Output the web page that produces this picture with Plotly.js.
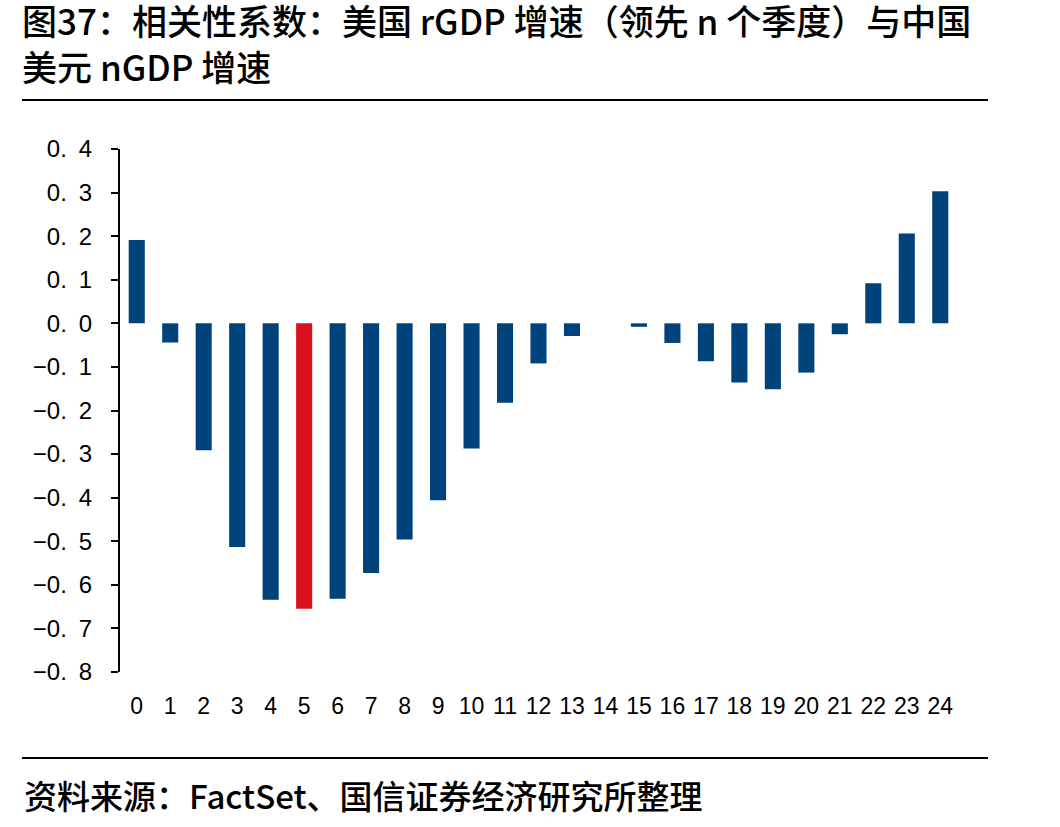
<!DOCTYPE html>
<html>
<head>
<meta charset="utf-8">
<script src="https://cdn.plot.ly/plotly-3.0.1.min.js"></script>
<style>
  html, body { margin: 0; padding: 0; background: #ffffff; }
  #chart { width: 1060px; height: 827px; }
</style>
</head>
<body>
<div id="chart"></div>
<script>
// Lead in quarters (US rGDP growth leading China's USD nGDP growth)
const leadQuarters = ["0","1","2","3","4","5","6","7","8","9","10","11","12",
                      "13","14","15","16","17","18","19","20","21","22","23","24"];

// Correlation coefficient for each lead
const correlation = [0.191, -0.044, -0.291, -0.513, -0.634, -0.655, -0.632, -0.573,
                     -0.496, -0.406, -0.287, -0.182, -0.092, -0.029, 0.000, -0.008,
                     -0.045, -0.087, -0.136, -0.151, -0.113, -0.025, 0.092, 0.206, 0.303];

// Y axis ticks
const yTickVals = [0.4, 0.3, 0.2, 0.1, 0.0, -0.1, -0.2, -0.3, -0.4, -0.5, -0.6, -0.7, -0.8];
const yTickText = ["0.\u20024", "0.\u20023", "0.\u20022", "0.\u20021", "0.\u20020",
                   "\u22120.\u20021", "\u22120.\u20022", "\u22120.\u20023", "\u22120.\u20024",
                   "\u22120.\u20025", "\u22120.\u20026", "\u22120.\u20027", "\u22120.\u20028"];

const highlightLead = "5";
const BLUE = "#00427A";
const RED = "#D9101D";

const yMin = -0.8, yMax = 0.4;
const barColors = leadQuarters.map(q => q === highlightLead ? RED : BLUE);
const boundaries = leadQuarters.map((_, i) => i + 0.5);

const CJK = '"Noto Sans CJK SC", "Noto Sans", sans-serif';
const LATIN = '"Liberation Sans", Arial, sans-serif';

// Plot area in pixels
const W = 1060, H = 827;
const L = 120, R = 103, T = 149, B = 155;
const plotW = W - L - R, plotH = H - T - B;
const px = x => (x - L) / plotW;          // pixel x -> paper x
const py = y => (H - B - y) / plotH;      // pixel y -> paper y

const trace = {
  type: "bar",
  x: leadQuarters,
  y: correlation,
  marker: { color: barColors, line: { width: 0 } },
  hoverinfo: "x+y"
};

const layout = {
  width: W, height: H,
  paper_bgcolor: "#ffffff",
  plot_bgcolor: "#ffffff",
  margin: { l: L, r: R, t: T, b: B, pad: 0 },
  showlegend: false,
  bargap: 0.52,
  title: {
    text: "图37：相关性系数：美国 rGDP 增速（领先 n 个季度）与中国<br>美元 nGDP 增速",
    font: { family: CJK, size: 35, color: "#000000", weight: 500 },
    xref: "container", yref: "container",
    x: 22 / W, xanchor: "left",
    y: 1 - 35 / H, yanchor: "top"
  },
  xaxis: {
    type: "category",
    categoryorder: "array",
    categoryarray: leadQuarters,
    range: [-0.5, leadQuarters.length - 0.5],
    showline: false,
    ticks: "",
    showgrid: false,
    zeroline: false,
    tickfont: { family: LATIN, size: 23, color: "#000000" },
    ticklabelstandoff: 18,
    automargin: false,
    fixedrange: true
  },
  // Horizontal axis line drawn through zero, with ticks between categories
  xaxis2: {
    overlaying: "x",
    anchor: "free",
    position: (0 - yMin) / (yMax - yMin),
    range: [-0.5, leadQuarters.length - 0.5],
    tickmode: "array",
    tickvals: boundaries,
    showticklabels: false,
    ticks: "outside",
    ticklen: 7,
    tickwidth: 2,
    tickcolor: "#000000",
    showline: true,
    linewidth: 2,
    linecolor: "#000000",
    showgrid: false,
    zeroline: false,
    automargin: false,
    fixedrange: true
  },
  yaxis: {
    range: [yMin, yMax],
    tickmode: "array",
    tickvals: yTickVals,
    ticktext: yTickText,
    ticks: "outside",
    ticklen: 7,
    tickwidth: 2,
    tickcolor: "#000000",
    showline: true,
    linewidth: 2,
    linecolor: "#000000",
    showgrid: false,
    zeroline: false,
    tickfont: { family: LATIN, size: 24, color: "#000000" },
    ticklabelstandoff: 14,
    automargin: false,
    fixedrange: true
  },
  shapes: [
    { type: "line", xref: "paper", yref: "paper",
      x0: px(22), x1: px(988), y0: py(100), y1: py(100),
      line: { color: "#000000", width: 2 } },
    { type: "line", xref: "paper", yref: "paper",
      x0: px(22), x1: px(988), y0: py(758), y1: py(758),
      line: { color: "#000000", width: 2 } }
  ],
  annotations: [
    { text: "资料来源：FactSet、国信证券经济研究所整理",
      xref: "paper", yref: "paper",
      x: px(22), xanchor: "left",
      y: py(795), yanchor: "middle",
      showarrow: false,
      font: { family: CJK, size: 33, color: "#000000", weight: 500 } }
  ]
};

Plotly.newPlot("chart", [trace], layout, { displayModeBar: false, staticPlot: true });
</script>
</body>
</html>
